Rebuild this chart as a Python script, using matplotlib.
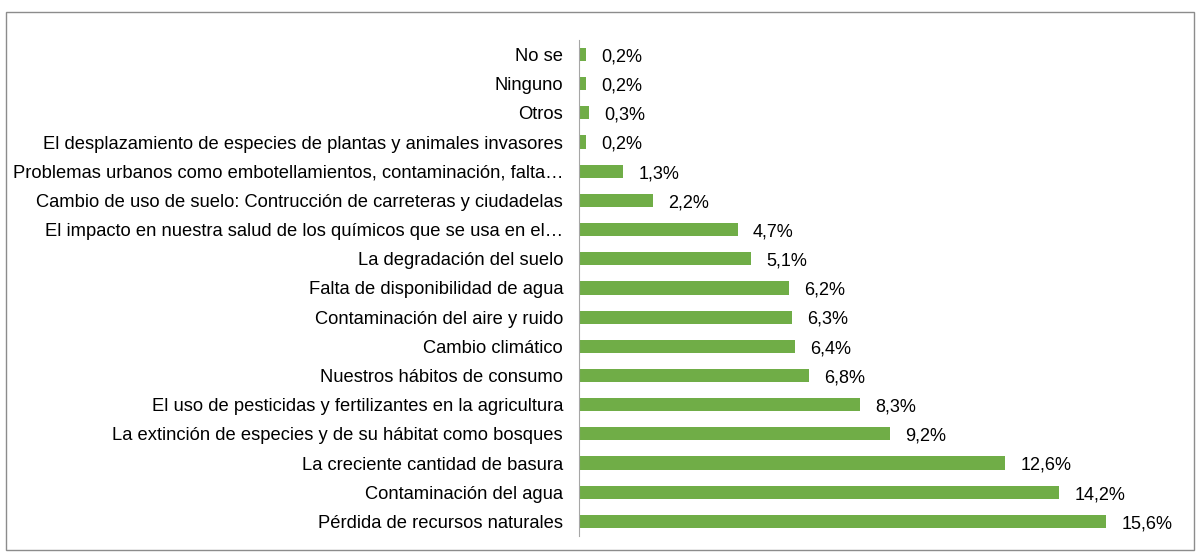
import matplotlib.pyplot as plt
from matplotlib.patches import Rectangle

plt.rcParams['font.family'] = ['Liberation Sans', 'DejaVu Sans']

categories = [
    'No se',
    'Ninguno',
    'Otros',
    'El desplazamiento de especies de plantas y animales invasores',
    'Problemas urbanos como embotellamientos, contaminación, falta…',
    'Cambio de uso de suelo: Contrucción de carreteras y ciudadelas',
    'El impacto en nuestra salud de los químicos que se usa en el…',
    'La degradación del suelo',
    'Falta de disponibilidad de agua',
    'Contaminación del aire y ruido',
    'Cambio climático',
    'Nuestros hábitos de consumo',
    'El uso de pesticidas y fertilizantes en la agricultura',
    'La extinción de especies y de su hábitat como bosques',
    'La creciente cantidad de basura',
    'Contaminación del agua',
    'Pérdida de recursos naturales',
]
values = [0.2, 0.2, 0.3, 0.2, 1.3, 2.2, 4.7, 5.1, 6.2, 6.3, 6.4, 6.8, 8.3, 9.2, 12.6, 14.2, 15.6]

fig = plt.figure(figsize=(12.02, 5.54), dpi=100)
ax = fig.add_axes([0.4817, 0.0325, 0.5063, 0.8955])

y = range(len(categories))
ax.barh(y, values, height=0.45, color='#70AD47')
ax.set_ylim(len(categories) - 0.5, -0.5)
ax.set_xlim(0, 18)
ax.set_yticks(list(y))
ax.set_yticklabels(categories, fontsize=13.2, color='#000000')
ax.tick_params(axis='y', length=0, pad=11.5)
ax.set_xticks([])

for i, v in enumerate(values):
    ax.text(v + 0.45, i + 0.08, f'{v:.1f}%'.replace('.', ','),
            va='center', ha='left', fontsize=13)

for s in ['top', 'right', 'bottom']:
    ax.spines[s].set_visible(False)
ax.spines['left'].set_color('#A6A6A6')
ax.patch.set_visible(False)

fig.patches.append(Rectangle((6 / 1202, 4 / 554), 1188 / 1202, 538 / 554,
                             transform=fig.transFigure, fill=False,
                             edgecolor='#8C8C8C', linewidth=1))

fig.savefig('out.png', dpi=100)
